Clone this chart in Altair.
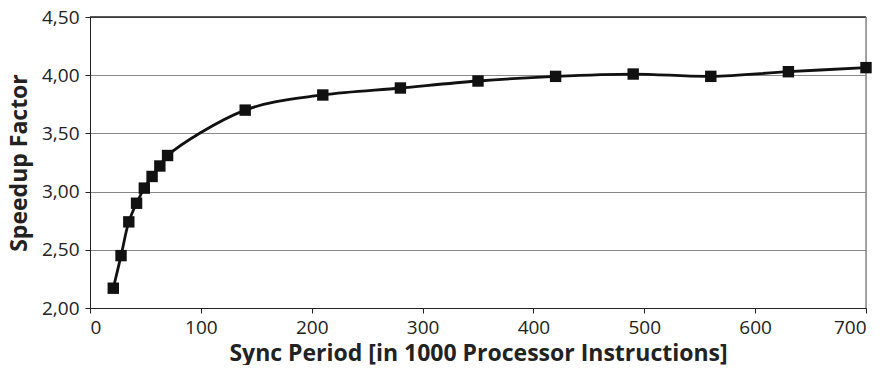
import altair as alt
import pandas as pd

sync_period = [21, 28, 35, 42, 49, 56, 63, 70, 140, 210, 280, 350, 420, 490, 560, 630, 700]
speedup = [2.17, 2.45, 2.74, 2.90, 3.03, 3.13, 3.22, 3.31, 3.70, 3.83, 3.89, 3.95, 3.99, 4.01, 3.99, 4.03, 4.065]

df = pd.DataFrame({"x": sync_period, "y": speedup})
FONT = "Open Sans"

xs = alt.Scale(domain=[0, 700], nice=False)
ys = alt.Scale(domain=[2.0, 4.5], nice=False, zero=False)

base = alt.Chart(df)

line = base.mark_line(color="#111111", strokeWidth=2.8, interpolate="catmull-rom").encode(
    x=alt.X("x:Q", scale=xs,
            axis=alt.Axis(title="Sync Period [in 1000 Processor Instructions]", values=[0, 100, 200, 300, 400, 500, 600, 700],
                          grid=False, tickColor="#222", domainColor="#222", tickSize=5,
                          labelFontSize=19, labelFont=FONT, labelColor="#222",
                          titleFont=FONT, titleFontSize=23, titleFontWeight="bold", titleColor="#222",
                          labelPadding=5, titlePadding=5)),
    y=alt.Y("y:Q", scale=ys,
            axis=alt.Axis(title="Speedup Factor", values=[2.0, 2.5, 3.0, 3.5, 4.0, 4.5],
                          labelExpr="replace(format(datum.value, '.2f'), '.', ',')",
                          grid=True, gridColor="#888888", gridWidth=1.2,
                          tickColor="#222", domainColor="#222", tickSize=5,
                          labelFontSize=19, labelFont=FONT, labelColor="#222",
                          titleFont=FONT, titleFontSize=23, titleFontWeight="bold", titleColor="#222",
                          labelPadding=6, titlePadding=10)),
)

pts = base.mark_point(shape="square", filled=True, opacity=1, color="#111111", size=130).encode(
    x=alt.X("x:Q", scale=xs), y=alt.Y("y:Q", scale=ys))

top = pd.DataFrame({"y": [4.5]})
top_rule = alt.Chart(top).mark_rule(color="#222222", strokeWidth=1.5).encode(y=alt.Y("y:Q", scale=ys))
right = pd.DataFrame({"x": [700]})
right_rule = alt.Chart(right).mark_rule(color="#888888", strokeWidth=1.5).encode(x=alt.X("x:Q", scale=xs))

chart = alt.layer(top_rule, right_rule, line, pts).properties(
    width=776, height=291, padding={"left": 0, "top": 0, "right": 0, "bottom": 0}
).configure_view(stroke=None).configure(background="white")

chart.save("out.html", embed_options={"renderer": "svg", "actions": False})
